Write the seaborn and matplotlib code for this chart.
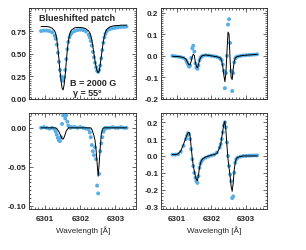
import numpy as np
import pandas as pd
import matplotlib
matplotlib.use("Agg")
import matplotlib.pyplot as plt
from matplotlib.ticker import AutoMinorLocator, FormatStrFormatter
import seaborn as sns

# wavelength samples [A]
wavelength = [6300.88, 6300.96, 6301.04, 6301.12, 6301.20,
              6301.27, 6301.30, 6301.33, 6301.36, 6301.39, 6301.42, 6301.45, 6301.48,
              6301.51, 6301.54, 6301.57, 6301.60, 6301.63, 6301.66, 6301.69, 6301.72,
              6301.76,
              6301.84, 6301.92, 6302.00, 6302.08, 6302.16, 6302.24,
              6302.27, 6302.30, 6302.33, 6302.36, 6302.39, 6302.42, 6302.45, 6302.48,
              6302.51, 6302.54, 6302.57, 6302.60, 6302.63, 6302.66, 6302.69, 6302.72,
              6302.76,
              6302.84, 6302.92, 6303.00, 6303.08, 6303.16, 6303.24, 6303.32]

# Stokes I
obs_i = [0.75, 0.755, 0.755, 0.75, 0.735,
         0.70, 0.665, 0.60, 0.51, 0.41, 0.32, 0.25, 0.21, 0.20, 0.24, 0.32, 0.44, 0.55, 0.63, 0.68, 0.71,
         0.73,
         0.75, 0.76, 0.765, 0.76, 0.745, 0.71,
         0.68, 0.64, 0.59, 0.52, 0.46, 0.40, 0.35, 0.31, 0.30, 0.32, 0.37, 0.45, 0.54, 0.62, 0.68, 0.72,
         0.75,
         0.77, 0.78, 0.785, 0.79, 0.795, 0.795, 0.80]
syn_i = [0.80, 0.80, 0.80, 0.795, 0.78,
         0.75, 0.72, 0.66, 0.56, 0.44, 0.31, 0.20, 0.12, 0.10, 0.16, 0.27, 0.41, 0.54, 0.64, 0.70, 0.745,
         0.765,
         0.785, 0.79, 0.79, 0.785, 0.775, 0.75,
         0.73, 0.70, 0.65, 0.58, 0.50, 0.42, 0.36, 0.31, 0.29, 0.31, 0.38, 0.47, 0.56, 0.64, 0.70, 0.74,
         0.77,
         0.795, 0.805, 0.81, 0.81, 0.815, 0.815, 0.815]

# Stokes Q
obs_q = [0.0, -0.002, -0.004, -0.006, -0.010,
         -0.020, -0.030, -0.040, -0.050, -0.045, -0.010, 0.035, 0.047, 0.020, -0.035, -0.055, -0.060,
         -0.045, -0.020, -0.008, -0.003,
         0.0,
         0.003, 0.002, 0.0, -0.002, -0.005, -0.010,
         -0.015, -0.020, -0.040, -0.070, -0.150, -0.080, 0.000, 0.145, 0.170, 0.060, -0.070, -0.163,
         -0.080, -0.030, -0.012, -0.006,
         -0.003,
         0.0, 0.002, 0.003, 0.004, 0.005, 0.006, 0.007]
syn_q = [-0.002, -0.003, -0.003, -0.005, -0.008,
         -0.015, -0.025, -0.035, -0.042, -0.040, -0.025, -0.005, 0.008, 0.002, -0.030, -0.050, -0.055,
         -0.040, -0.020, -0.008, -0.002,
         0.002,
         0.004, 0.002, 0.0, -0.002, -0.004, -0.008,
         -0.012, -0.025, -0.050, -0.090, -0.120, -0.080, 0.020, 0.110, 0.100, -0.020, -0.100, -0.110,
         -0.060, -0.025, -0.010, -0.005,
         -0.003,
         0.0, 0.002, 0.003, 0.004, 0.005, 0.006, 0.007]

# Stokes U
obs_u = [0.0, 0.001, 0.0, -0.001, 0.0,
         -0.002, -0.005, -0.009, -0.013, -0.016, -0.017, -0.012, 0.005, 0.016, 0.019, 0.012, 0.016,
         0.008, 0.003, 0.001, 0.0,
         0.001,
         0.001, 0.0, 0.001, 0.0, -0.001, -0.002,
         -0.006, -0.012, -0.022, -0.030, -0.035, -0.025, -0.040, -0.074, -0.084, -0.059, -0.030, -0.020,
         -0.012, -0.005, -0.002, 0.0,
         0.0,
         0.0, 0.001, 0.0, 0.0, 0.001, 0.0, 0.0]
syn_u = [0.0, 0.0, 0.0, 0.0, 0.0,
         0.0, 0.0, -0.001, -0.003, -0.005, -0.008, -0.011, -0.014, -0.0145, -0.012, -0.008, -0.004,
         -0.002, 0.0, 0.0, 0.0,
         0.0,
         0.0, 0.0, 0.0, 0.0, 0.0, 0.0,
         0.0, 0.0, -0.002, -0.006, -0.010, -0.016, -0.028, -0.045, -0.062, -0.045, -0.025, -0.008,
         -0.002, 0.0, 0.0, 0.0,
         0.0,
         0.0, 0.0, 0.0, 0.0, 0.0, 0.0, 0.0]

# Stokes V
obs_v = [0.008, 0.008, 0.010, 0.025, 0.060,
         0.10, 0.12, 0.135, 0.13, 0.10, 0.04, -0.02, -0.06, -0.10, -0.13, -0.15, -0.16,
         -0.12, -0.07, -0.045, -0.03,
         -0.02,
         -0.01, -0.003, 0.003, 0.008, 0.02, 0.05,
         0.07, 0.10, 0.14, 0.18, 0.20, 0.17, 0.08, 0.0, -0.06, -0.11, -0.15, -0.25,
         -0.24, -0.10, -0.04, -0.02,
         -0.01,
         -0.004, 0.0, 0.0, 0.002, 0.002, 0.003, 0.003]
syn_v = [0.008, 0.008, 0.012, 0.030, 0.070,
         0.11, 0.125, 0.138, 0.14, 0.115, 0.05, -0.01, -0.06, -0.09, -0.12, -0.14, -0.147,
         -0.11, -0.07, -0.04, -0.025,
         -0.015,
         -0.006, 0.0, 0.005, 0.008, 0.015, 0.05,
         0.07, 0.11, 0.15, 0.19, 0.205, 0.15, 0.06, -0.02, -0.07, -0.12, -0.18, -0.21,
         -0.16, -0.08, -0.035, -0.015,
         -0.008,
         -0.003, 0.0, 0.0, 0.0, 0.0, 0.0, 0.0]

xticks = [6301, 6302, 6303]

sns.set_style("ticks")
plt.rcParams["font.family"] = ["Liberation Sans", "DejaVu Sans"]
plt.rcParams["axes.unicode_minus"] = False
plt.rcParams["xtick.direction"] = "in"
plt.rcParams["ytick.direction"] = "in"

blue = "#55aee6"

fig = plt.figure(figsize=(3.06, 2.51), dpi=100)
panels = [
    # obs, syn, rect, ylim, yticks, fmt, minor
    (obs_i, syn_i, [0.0964, 0.6016, 0.348, 0.361], (0.0, 1.0), [0.0, 0.25, 0.5, 0.75], "%.2f", 10),
    (obs_q, syn_q, [0.5261, 0.6016, 0.345, 0.361], (-0.2, 0.22), [-0.2, -0.1, 0.0, 0.1, 0.2], "%.1f", 10),
    (obs_u, syn_u, [0.0964, 0.1633, 0.348, 0.3825], (-0.104, 0.019), [-0.10, -0.05, 0.0], "%.2f", 10),
    (obs_v, syn_v, [0.5261, 0.1633, 0.345, 0.3825], (-0.315, 0.255), [-0.3, -0.2, -0.1, 0.0, 0.1, 0.2], "%.1f", 5),
]

axes = []
for k, (obs, syn, rect, ylim, yt, fmt, nminor) in enumerate(panels):
    ax = fig.add_axes(rect)
    df = pd.DataFrame({"wl": wavelength, "obs": obs, "syn": syn})
    sns.scatterplot(data=df, x="wl", y="obs", ax=ax, color=blue, s=8,
                    edgecolor="none", linewidth=0, zorder=2)
    sns.lineplot(data=df, x="wl", y="syn", ax=ax, color="black", lw=0.7, zorder=3)
    ax.set_xlim(6300.55, 6303.59)
    ax.set_ylim(*ylim)
    ax.set_xticks(xticks)
    ax.set_yticks(yt)
    ax.yaxis.set_major_formatter(FormatStrFormatter(fmt))
    ax.xaxis.set_minor_locator(AutoMinorLocator(10))
    ax.yaxis.set_minor_locator(AutoMinorLocator(nminor))
    ax.tick_params(which="both", top=True, right=True, direction="in",
                   width=0.5, labelsize=5.8)
    ax.tick_params(axis="y", pad=2)
    ax.tick_params(axis="x", pad=4)
    ax.tick_params(which="major", length=3)
    ax.tick_params(which="minor", length=1.5)
    for lab in ax.get_yticklabels() + ax.get_xticklabels():
        lab.set_fontweight("bold")
    for sp in ax.spines.values():
        sp.set_linewidth(0.6)
    ax.set_ylabel("")
    if k < 2:
        ax.set_xlabel("")
        ax.set_xticklabels([])
    else:
        ax.set_xlabel("Wavelength [Å]", fontsize=5.8, labelpad=3)
    axes.append(ax)

axes[0].text(0.085, 0.9, "Blueshifted patch", transform=axes[0].transAxes,
             fontsize=6.5, fontweight="bold", va="center", ha="left")
axes[0].text(0.38, 0.185, "B = 2000 G", transform=axes[0].transAxes,
             fontsize=6.5, fontweight="bold", va="center", ha="left")
axes[0].text(0.41, 0.075, "γ = 55°", transform=axes[0].transAxes,
             fontsize=6.5, fontweight="bold", va="center", ha="left")

fig.savefig("out.png", dpi=100)
